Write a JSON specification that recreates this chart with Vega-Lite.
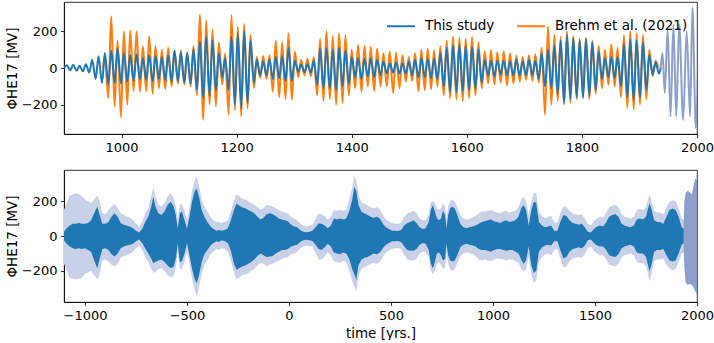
{
  "$schema": "https://vega.github.io/schema/vega-lite/v6.json",
  "padding": {"left": 4, "top": 1, "right": 0, "bottom": 0},
  "background": "white",
  "spacing": 14,
  "config": {
    "font": "DejaVu Sans",
    "view": {"stroke": "black", "strokeWidth": 0.8},
    "axis": {
      "grid": false,
      "labelFont": "DejaVu Sans", "labelFontSize": 13, "labelColor": "black",
      "titleFont": "DejaVu Sans", "titleFontSize": 13.5, "titleFontWeight": "normal", "titleColor": "black",
      "tickColor": "black", "tickSize": 3.5, "tickWidth": 0.8,
      "domainColor": "black", "domainWidth": 0.8,
      "labelPadding": 3.5, "labelFlush": false, "labelOverlap": false, "format": "d"
    },
    "legend": {
      "labelFont": "DejaVu Sans", "labelFontSize": 13.5, "labelColor": "black"
    }
  },
  "datasets": {
    "blue": [
      {"t":900,"v":0},{"t":905,"v":15},{"t":911,"v":-12},{"t":916,"v":18},{"t":922,"v":-15},{"t":927,"v":12},{"t":933,"v":-18},{"t":938,"v":20},{"t":944,"v":-25},{"t":949,"v":45},{"t":955,"v":-60},{"t":960,"v":64},{"t":966,"v":-82},{"t":971,"v":82},{"t":977,"v":-87},{"t":982,"v":95},{"t":988,"v":-80},{"t":993,"v":109},{"t":999,"v":-85},
      {"t":1004,"v":80},{"t":1010,"v":-75},{"t":1015,"v":70},{"t":1021,"v":-70},{"t":1026,"v":75},{"t":1032,"v":-60},{"t":1037,"v":55},{"t":1043,"v":-65},{"t":1048,"v":70},{"t":1054,"v":-72},{"t":1059,"v":65},{"t":1065,"v":-60},{"t":1070,"v":60},{"t":1076,"v":-65},{"t":1081,"v":70},{"t":1087,"v":-75},{"t":1092,"v":95},{"t":1098,"v":-73},
      {"t":1103,"v":85},{"t":1109,"v":-80},{"t":1114,"v":80},{"t":1120,"v":-85},{"t":1125,"v":100},{"t":1131,"v":-120},{"t":1136,"v":145},{"t":1142,"v":-164},{"t":1147,"v":172},{"t":1153,"v":-150},{"t":1158,"v":150},{"t":1164,"v":-120},{"t":1169,"v":80},{"t":1175,"v":-50},{"t":1180,"v":55},{"t":1186,"v":-120},{"t":1191,"v":170},{"t":1197,"v":-200},
      {"t":1202,"v":190},{"t":1208,"v":-218},{"t":1213,"v":200},{"t":1219,"v":-190},{"t":1224,"v":150},{"t":1230,"v":-80},{"t":1235,"v":45},{"t":1241,"v":-40},{"t":1246,"v":35},{"t":1252,"v":-40},{"t":1257,"v":45},{"t":1263,"v":-60},{"t":1268,"v":60},{"t":1274,"v":-55},{"t":1279,"v":65},{"t":1285,"v":-70},{"t":1290,"v":109},{"t":1296,"v":-70},
      {"t":1301,"v":40},{"t":1307,"v":-20},{"t":1312,"v":18},{"t":1318,"v":-22},{"t":1323,"v":20},{"t":1329,"v":-25},{"t":1334,"v":40},{"t":1340,"v":-90},{"t":1345,"v":105},{"t":1351,"v":-110},{"t":1356,"v":109},{"t":1362,"v":-110},{"t":1367,"v":100},{"t":1373,"v":-120},{"t":1378,"v":110},{"t":1384,"v":-100},{"t":1389,"v":95},{"t":1395,"v":-85},
      {"t":1400,"v":60},{"t":1406,"v":-50},{"t":1411,"v":55},{"t":1417,"v":-60},{"t":1422,"v":50},{"t":1428,"v":-45},{"t":1433,"v":55},{"t":1439,"v":-50},{"t":1444,"v":45},{"t":1450,"v":-40},{"t":1455,"v":35},{"t":1461,"v":-30},{"t":1466,"v":25},{"t":1472,"v":-25},{"t":1477,"v":30},{"t":1483,"v":-30},{"t":1488,"v":25},{"t":1494,"v":-30},{"t":1499,"v":35},
      {"t":1505,"v":-40},{"t":1510,"v":45},{"t":1516,"v":-50},{"t":1521,"v":55},{"t":1527,"v":-50},{"t":1532,"v":50},{"t":1538,"v":-55},{"t":1543,"v":50},{"t":1549,"v":-60},{"t":1554,"v":80},{"t":1560,"v":-100},{"t":1565,"v":110},{"t":1571,"v":-127},{"t":1576,"v":125},{"t":1582,"v":-130},{"t":1587,"v":127},{"t":1593,"v":-125},{"t":1598,"v":120},
      {"t":1604,"v":-120},{"t":1609,"v":115},{"t":1615,"v":-110},{"t":1620,"v":100},{"t":1626,"v":-80},{"t":1631,"v":45},{"t":1637,"v":-40},{"t":1642,"v":40},{"t":1648,"v":-45},{"t":1653,"v":40},{"t":1659,"v":-35},{"t":1664,"v":40},{"t":1670,"v":-40},{"t":1675,"v":35},{"t":1681,"v":-40},{"t":1686,"v":45},{"t":1692,"v":-40},{"t":1697,"v":35},
      {"t":1703,"v":-40},{"t":1708,"v":45},{"t":1714,"v":-40},{"t":1719,"v":40},{"t":1725,"v":-60},{"t":1730,"v":80},{"t":1736,"v":-100},{"t":1741,"v":100},{"t":1747,"v":-110},{"t":1752,"v":120},{"t":1758,"v":-140},{"t":1763,"v":150},{"t":1769,"v":-190},{"t":1774,"v":180},{"t":1780,"v":-170},{"t":1785,"v":164},{"t":1791,"v":-160},{"t":1796,"v":150},
      {"t":1802,"v":-164},{"t":1807,"v":160},{"t":1813,"v":-150},{"t":1818,"v":140},{"t":1824,"v":-120},{"t":1829,"v":90},{"t":1835,"v":-60},{"t":1840,"v":55},{"t":1846,"v":-50},{"t":1851,"v":60},{"t":1857,"v":-55},{"t":1862,"v":60},{"t":1868,"v":-100},{"t":1873,"v":130},{"t":1879,"v":-160},{"t":1884,"v":155},{"t":1890,"v":-173},{"t":1895,"v":150},
      {"t":1901,"v":-160},{"t":1906,"v":140},{"t":1912,"v":-120},{"t":1917,"v":70},{"t":1923,"v":-35},{"t":1928,"v":30},{"t":1934,"v":-30},{"t":1937,"v":0}
    ],
    "orange": [
      {"t":968,"v":0},{"t":971,"v":60},{"t":977,"v":-164},{"t":982,"v":282},{"t":988,"v":-209},{"t":993,"v":150},{"t":999,"v":-269},
      {"t":1004,"v":200},{"t":1010,"v":-200},{"t":1015,"v":204},{"t":1021,"v":-127},{"t":1026,"v":200},{"t":1032,"v":-130},{"t":1037,"v":118},{"t":1043,"v":-127},{"t":1048,"v":173},{"t":1054,"v":-140},{"t":1059,"v":120},{"t":1065,"v":-110},{"t":1070,"v":100},{"t":1076,"v":-115},{"t":1081,"v":110},{"t":1087,"v":-100},{"t":1092,"v":90},{"t":1098,"v":-85},
      {"t":1103,"v":95},{"t":1109,"v":-90},{"t":1114,"v":85},{"t":1120,"v":-100},{"t":1125,"v":120},{"t":1131,"v":-150},{"t":1136,"v":290},{"t":1142,"v":-282},{"t":1147,"v":260},{"t":1153,"v":-200},{"t":1158,"v":210},{"t":1164,"v":-209},{"t":1169,"v":140},{"t":1175,"v":-90},{"t":1180,"v":80},{"t":1186,"v":-255},{"t":1191,"v":290},{"t":1197,"v":-230},
      {"t":1202,"v":227},{"t":1208,"v":-265},{"t":1213,"v":240},{"t":1219,"v":-220},{"t":1224,"v":180},{"t":1230,"v":-110},{"t":1235,"v":60},{"t":1241,"v":-55},{"t":1246,"v":65},{"t":1252,"v":-60},{"t":1257,"v":70},{"t":1263,"v":-130},{"t":1268,"v":150},{"t":1274,"v":-160},{"t":1279,"v":140},{"t":1285,"v":-170},{"t":1290,"v":190},{"t":1296,"v":-173},
      {"t":1301,"v":90},{"t":1307,"v":-50},{"t":1312,"v":45},{"t":1318,"v":-40},{"t":1323,"v":50},{"t":1329,"v":-45},{"t":1334,"v":60},{"t":1340,"v":-150},{"t":1345,"v":160},{"t":1351,"v":-180},{"t":1356,"v":200},{"t":1362,"v":-170},{"t":1367,"v":175},{"t":1373,"v":-200},{"t":1378,"v":190},{"t":1384,"v":-190},{"t":1389,"v":180},{"t":1395,"v":-150},
      {"t":1400,"v":100},{"t":1406,"v":-110},{"t":1411,"v":127},{"t":1417,"v":-130},{"t":1422,"v":120},{"t":1428,"v":-100},{"t":1433,"v":115},{"t":1439,"v":-125},{"t":1444,"v":105},{"t":1450,"v":-100},{"t":1455,"v":80},{"t":1461,"v":-100},{"t":1466,"v":90},{"t":1472,"v":-136},{"t":1477,"v":85},{"t":1483,"v":-110},{"t":1488,"v":70},{"t":1494,"v":-75},{"t":1499,"v":60},
      {"t":1505,"v":-70},{"t":1510,"v":80},{"t":1516,"v":-127},{"t":1521,"v":100},{"t":1527,"v":-120},{"t":1532,"v":105},{"t":1538,"v":-115},{"t":1543,"v":95},{"t":1549,"v":-100},{"t":1554,"v":120},{"t":1560,"v":-150},{"t":1565,"v":150},{"t":1571,"v":-164},{"t":1576,"v":173},{"t":1582,"v":-170},{"t":1587,"v":165},{"t":1593,"v":-180},{"t":1598,"v":160},
      {"t":1604,"v":-164},{"t":1609,"v":170},{"t":1615,"v":-150},{"t":1620,"v":140},{"t":1626,"v":-110},{"t":1631,"v":90},{"t":1637,"v":-85},{"t":1642,"v":95},{"t":1648,"v":-90},{"t":1653,"v":85},{"t":1659,"v":-80},{"t":1664,"v":90},{"t":1670,"v":-95},{"t":1675,"v":80},{"t":1681,"v":-85},{"t":1686,"v":70},{"t":1692,"v":-75},{"t":1697,"v":60},
      {"t":1703,"v":-65},{"t":1708,"v":70},{"t":1714,"v":-70},{"t":1719,"v":75},{"t":1725,"v":-80},{"t":1730,"v":110},{"t":1736,"v":-255},{"t":1741,"v":227},{"t":1747,"v":-200},{"t":1752,"v":180},{"t":1758,"v":-180},{"t":1763,"v":170},{"t":1769,"v":-200},{"t":1774,"v":200},{"t":1780,"v":-190},{"t":1785,"v":175},{"t":1791,"v":-170},{"t":1796,"v":160},
      {"t":1802,"v":-150},{"t":1807,"v":165},{"t":1813,"v":-170},{"t":1818,"v":150},{"t":1824,"v":-140},{"t":1829,"v":120},{"t":1835,"v":-110},{"t":1840,"v":100},{"t":1846,"v":-90},{"t":1851,"v":130},{"t":1857,"v":-100},{"t":1862,"v":110},{"t":1868,"v":-160},{"t":1873,"v":180},{"t":1879,"v":-220},{"t":1884,"v":200},{"t":1890,"v":-227},{"t":1895,"v":190},
      {"t":1901,"v":-200},{"t":1906,"v":180},{"t":1912,"v":-170},{"t":1917,"v":100},{"t":1923,"v":-45},{"t":1928,"v":40},{"t":1933,"v":0}
    ],
    "lav": [
      {"t":1937,"v":0},{"t":1940,"v":82},{"t":1944,"v":-136},{"t":1949,"v":209},{"t":1954,"v":-264},{"t":1959,"v":236},{"t":1964,"v":-264},{"t":1969,"v":236},{"t":1976,"v":-282},{"t":1982,"v":200},{"t":1988,"v":-264},{"t":1992,"v":330},{"t":1998,"v":-327},{"t":2002,"v":0}
    ],
    "env": [
      {"t":-1103,"du":25,"dl":-25,"lu":150,"ll":-160},{"t":-1090,"du":45,"dl":-45,"lu":190,"ll":-200},{"t":-1075,"du":60,"dl":-60,"lu":230,"ll":-240},{"t":-1060,"du":70,"dl":-70,"lu":240,"ll":-245},{"t":-1045,"du":70,"dl":-75,"lu":245,"ll":-250},{"t":-1030,"du":75,"dl":-70,"lu":240,"ll":-245},{"t":-1015,"du":70,"dl":-75,"lu":230,"ll":-240},{"t":-1000,"du":70,"dl":-70,"lu":210,"ll":-215},
      {"t":-985,"du":75,"dl":-80,"lu":200,"ll":-210},{"t":-970,"du":90,"dl":-90,"lu":190,"ll":-200},{"t":-955,"du":130,"dl":-140,"lu":210,"ll":-225},{"t":-940,"du":168,"dl":-185,"lu":235,"ll":-250},{"t":-928,"du":120,"dl":-130,"lu":200,"ll":-220},{"t":-915,"du":70,"dl":-75,"lu":130,"ll":-140},{"t":-900,"du":70,"dl":-70,"lu":125,"ll":-135},
      {"t":-885,"du":80,"dl":-80,"lu":150,"ll":-150},{"t":-870,"du":110,"dl":-105,"lu":170,"ll":-165},{"t":-855,"du":130,"dl":-118,"lu":185,"ll":-175},{"t":-840,"du":110,"dl":-100,"lu":160,"ll":-160},{"t":-825,"du":75,"dl":-70,"lu":130,"ll":-125},{"t":-810,"du":65,"dl":-60,"lu":120,"ll":-115},{"t":-795,"du":60,"dl":-55,"lu":110,"ll":-110},
      {"t":-780,"du":55,"dl":-50,"lu":105,"ll":-100},{"t":-765,"du":45,"dl":-45,"lu":90,"ll":-90},{"t":-750,"du":30,"dl":-30,"lu":70,"ll":-70},{"t":-735,"du":20,"dl":-20,"lu":55,"ll":-55},{"t":-720,"du":40,"dl":-40,"lu":80,"ll":-80},{"t":-705,"du":80,"dl":-70,"lu":130,"ll":-120},{"t":-690,"du":110,"dl":-100,"lu":160,"ll":-150},
      {"t":-675,"du":170,"dl":-130,"lu":230,"ll":-190},{"t":-665,"du":225,"dl":-156,"lu":280,"ll":-210},{"t":-655,"du":170,"dl":-150,"lu":230,"ll":-210},{"t":-640,"du":130,"dl":-140,"lu":180,"ll":-190},{"t":-625,"du":120,"dl":-135,"lu":170,"ll":-185},{"t":-610,"du":140,"dl":-150,"lu":190,"ll":-200},{"t":-595,"du":180,"dl":-170,"lu":230,"ll":-225},
      {"t":-580,"du":196,"dl":-185,"lu":245,"ll":-240},{"t":-565,"du":170,"dl":-175,"lu":220,"ll":-230},{"t":-555,"du":120,"dl":-130,"lu":170,"ll":-180},{"t":-545,"du":40,"dl":-40,"lu":90,"ll":-90},{"t":-535,"du":130,"dl":-150,"lu":180,"ll":-190},{"t":-525,"du":139,"dl":-145,"lu":185,"ll":-190},{"t":-512,"du":90,"dl":-100,"lu":140,"ll":-150},
      {"t":-500,"du":40,"dl":-40,"lu":90,"ll":-90},{"t":-488,"du":110,"dl":-110,"lu":160,"ll":-160},{"t":-475,"du":200,"dl":-190,"lu":260,"ll":-250},{"t":-462,"du":260,"dl":-250,"lu":320,"ll":-310},{"t":-452,"du":272,"dl":-270,"lu":343,"ll":-347},{"t":-440,"du":220,"dl":-220,"lu":280,"ll":-290},{"t":-428,"du":150,"dl":-150,"lu":210,"ll":-215},
      {"t":-415,"du":110,"dl":-105,"lu":170,"ll":-165},{"t":-400,"du":80,"dl":-80,"lu":140,"ll":-140},{"t":-385,"du":55,"dl":-55,"lu":110,"ll":-105},{"t":-370,"du":40,"dl":-40,"lu":90,"ll":-90},{"t":-355,"du":30,"dl":-30,"lu":80,"ll":-75},{"t":-345,"du":35,"dl":-35,"lu":80,"ll":-80},{"t":-330,"du":30,"dl":-25,"lu":75,"ll":-70},
      {"t":-315,"du":35,"dl":-30,"lu":80,"ll":-75},{"t":-300,"du":45,"dl":-40,"lu":90,"ll":-90},{"t":-285,"du":90,"dl":-85,"lu":140,"ll":-140},{"t":-270,"du":150,"dl":-160,"lu":200,"ll":-210},{"t":-257,"du":187,"dl":-194,"lu":240,"ll":-250},{"t":-245,"du":175,"dl":-185,"lu":230,"ll":-240},{"t":-230,"du":165,"dl":-175,"lu":215,"ll":-225},
      {"t":-215,"du":160,"dl":-170,"lu":210,"ll":-220},{"t":-200,"du":150,"dl":-160,"lu":200,"ll":-215},{"t":-185,"du":140,"dl":-150,"lu":190,"ll":-200},{"t":-170,"du":130,"dl":-135,"lu":180,"ll":-190},{"t":-155,"du":110,"dl":-115,"lu":165,"ll":-170},{"t":-140,"du":95,"dl":-100,"lu":150,"ll":-155},{"t":-125,"du":105,"dl":-110,"lu":160,"ll":-160},
      {"t":-110,"du":125,"dl":-120,"lu":180,"ll":-175},{"t":-95,"du":130,"dl":-118,"lu":175,"ll":-165},{"t":-80,"du":125,"dl":-115,"lu":170,"ll":-160},{"t":-65,"du":115,"dl":-100,"lu":160,"ll":-150},{"t":-50,"du":100,"dl":-90,"lu":150,"ll":-140},{"t":-35,"du":95,"dl":-80,"lu":140,"ll":-130},{"t":-20,"du":90,"dl":-80,"lu":135,"ll":-125},
      {"t":-5,"du":85,"dl":-75,"lu":130,"ll":-120},{"t":10,"du":65,"dl":-60,"lu":110,"ll":-105},{"t":25,"du":55,"dl":-55,"lu":100,"ll":-100},{"t":40,"du":50,"dl":-50,"lu":90,"ll":-90},{"t":55,"du":35,"dl":-35,"lu":70,"ll":-70},{"t":70,"du":25,"dl":-25,"lu":60,"ll":-60},{"t":85,"du":22,"dl":-22,"lu":55,"ll":-55},
      {"t":100,"du":25,"dl":-25,"lu":60,"ll":-60},{"t":115,"du":30,"dl":-28,"lu":65,"ll":-60},{"t":130,"du":50,"dl":-50,"lu":100,"ll":-95},{"t":145,"du":72,"dl":-75,"lu":130,"ll":-135},{"t":160,"du":70,"dl":-80,"lu":125,"ll":-135},{"t":175,"du":60,"dl":-65,"lu":115,"ll":-120},{"t":190,"du":45,"dl":-45,"lu":95,"ll":-95},
      {"t":205,"du":60,"dl":-60,"lu":110,"ll":-110},{"t":220,"du":100,"dl":-95,"lu":150,"ll":-145},{"t":235,"du":95,"dl":-100,"lu":145,"ll":-150},{"t":250,"du":100,"dl":-105,"lu":150,"ll":-155},{"t":265,"du":95,"dl":-95,"lu":145,"ll":-145},{"t":280,"du":100,"dl":-100,"lu":150,"ll":-150},{"t":295,"du":140,"dl":-130,"lu":210,"ll":-200},
      {"t":310,"du":210,"dl":-190,"lu":280,"ll":-260},{"t":320,"du":282,"dl":-220,"lu":349,"ll":-290},{"t":330,"du":260,"dl":-251,"lu":320,"ll":-318},{"t":340,"du":180,"dl":-170,"lu":240,"ll":-230},{"t":355,"du":139,"dl":-137,"lu":195,"ll":-190},{"t":370,"du":130,"dl":-125,"lu":185,"ll":-180},{"t":385,"du":120,"dl":-120,"lu":175,"ll":-170},
      {"t":400,"du":110,"dl":-110,"lu":165,"ll":-160},{"t":415,"du":105,"dl":-100,"lu":160,"ll":-155},{"t":430,"du":110,"dl":-105,"lu":165,"ll":-160},{"t":445,"du":100,"dl":-95,"lu":155,"ll":-150},{"t":460,"du":70,"dl":-70,"lu":120,"ll":-120},{"t":475,"du":50,"dl":-50,"lu":95,"ll":-95},{"t":490,"du":40,"dl":-40,"lu":85,"ll":-85},
      {"t":505,"du":30,"dl":-30,"lu":75,"ll":-75},{"t":520,"du":30,"dl":-30,"lu":70,"ll":-70},{"t":535,"du":28,"dl":-28,"lu":70,"ll":-70},{"t":550,"du":35,"dl":-35,"lu":75,"ll":-75},{"t":565,"du":60,"dl":-60,"lu":110,"ll":-110},{"t":580,"du":75,"dl":-80,"lu":130,"ll":-135},{"t":595,"du":80,"dl":-85,"lu":135,"ll":-140},
      {"t":610,"du":90,"dl":-85,"lu":145,"ll":-140},{"t":625,"du":75,"dl":-75,"lu":130,"ll":-130},{"t":640,"du":50,"dl":-50,"lu":100,"ll":-100},{"t":655,"du":40,"dl":-40,"lu":90,"ll":-90},{"t":670,"du":45,"dl":-45,"lu":90,"ll":-90},{"t":685,"du":80,"dl":-80,"lu":120,"ll":-120},{"t":695,"du":150,"dl":-160,"lu":190,"ll":-200},
      {"t":705,"du":177,"dl":-185,"lu":200,"ll":-220},{"t":715,"du":140,"dl":-150,"lu":190,"ll":-200},{"t":725,"du":100,"dl":-100,"lu":160,"ll":-160},{"t":735,"du":90,"dl":-95,"lu":150,"ll":-150},{"t":745,"du":100,"dl":-110,"lu":160,"ll":-165},{"t":755,"du":145,"dl":-140,"lu":190,"ll":-190},{"t":765,"du":120,"dl":-130,"lu":170,"ll":-180},
      {"t":772,"du":40,"dl":-45,"lu":90,"ll":-90},{"t":780,"du":120,"dl":-110,"lu":170,"ll":-160},{"t":790,"du":160,"dl":-140,"lu":200,"ll":-190},{"t":800,"du":168,"dl":-147,"lu":210,"ll":-200},{"t":812,"du":160,"dl":-140,"lu":200,"ll":-190},{"t":825,"du":120,"dl":-110,"lu":165,"ll":-155},{"t":840,"du":70,"dl":-65,"lu":120,"ll":-115},
      {"t":855,"du":50,"dl":-50,"lu":100,"ll":-100},{"t":870,"du":45,"dl":-45,"lu":95,"ll":-95},{"t":885,"du":50,"dl":-50,"lu":100,"ll":-100},{"t":900,"du":55,"dl":-55,"lu":105,"ll":-105},{"t":915,"du":60,"dl":-60,"lu":115,"ll":-115},{"t":930,"du":70,"dl":-75,"lu":130,"ll":-135},{"t":945,"du":80,"dl":-80,"lu":140,"ll":-140},
      {"t":960,"du":85,"dl":-80,"lu":140,"ll":-135},{"t":975,"du":90,"dl":-85,"lu":145,"ll":-140},{"t":990,"du":95,"dl":-90,"lu":150,"ll":-145},{"t":1005,"du":85,"dl":-80,"lu":140,"ll":-135},{"t":1020,"du":80,"dl":-75,"lu":135,"ll":-130},{"t":1035,"du":75,"dl":-75,"lu":130,"ll":-130},{"t":1050,"du":85,"dl":-80,"lu":140,"ll":-135},
      {"t":1065,"du":90,"dl":-85,"lu":145,"ll":-140},{"t":1080,"du":80,"dl":-80,"lu":135,"ll":-135},{"t":1095,"du":85,"dl":-80,"lu":140,"ll":-135},{"t":1110,"du":90,"dl":-90,"lu":145,"ll":-145},{"t":1125,"du":110,"dl":-100,"lu":165,"ll":-155},{"t":1140,"du":165,"dl":-140,"lu":215,"ll":-190},{"t":1150,"du":177,"dl":-160,"lu":225,"ll":-205},
      {"t":1162,"du":150,"dl":-140,"lu":200,"ll":-190},{"t":1175,"du":60,"dl":-60,"lu":120,"ll":-120},{"t":1188,"du":150,"dl":-170,"lu":200,"ll":-220},{"t":1200,"du":196,"dl":-213,"lu":250,"ll":-270},{"t":1212,"du":190,"dl":-200,"lu":245,"ll":-255},{"t":1225,"du":80,"dl":-90,"lu":140,"ll":-150},{"t":1240,"du":60,"dl":-65,"lu":115,"ll":-120},
      {"t":1255,"du":50,"dl":-55,"lu":100,"ll":-105},{"t":1270,"du":55,"dl":-50,"lu":110,"ll":-100},{"t":1285,"du":60,"dl":-55,"lu":115,"ll":-110},{"t":1300,"du":30,"dl":-30,"lu":80,"ll":-80},{"t":1315,"du":28,"dl":-28,"lu":75,"ll":-75},{"t":1330,"du":80,"dl":-80,"lu":130,"ll":-130},{"t":1345,"du":120,"dl":-128,"lu":170,"ll":-180},
      {"t":1360,"du":115,"dl":-120,"lu":165,"ll":-175},{"t":1375,"du":90,"dl":-90,"lu":145,"ll":-145},{"t":1390,"du":75,"dl":-75,"lu":130,"ll":-130},{"t":1405,"du":70,"dl":-70,"lu":125,"ll":-125},{"t":1420,"du":65,"dl":-65,"lu":120,"ll":-120},{"t":1435,"du":70,"dl":-70,"lu":125,"ll":-125},{"t":1450,"du":50,"dl":-55,"lu":100,"ll":-105},
      {"t":1465,"du":25,"dl":-25,"lu":70,"ll":-70},{"t":1480,"du":20,"dl":-20,"lu":60,"ll":-60},{"t":1495,"du":40,"dl":-40,"lu":85,"ll":-85},{"t":1510,"du":55,"dl":-55,"lu":100,"ll":-100},{"t":1525,"du":60,"dl":-60,"lu":110,"ll":-110},{"t":1540,"du":55,"dl":-60,"lu":105,"ll":-110},{"t":1555,"du":80,"dl":-80,"lu":135,"ll":-135},
      {"t":1570,"du":110,"dl":-110,"lu":165,"ll":-165},{"t":1585,"du":120,"dl":-118,"lu":175,"ll":-170},{"t":1600,"du":125,"dl":-120,"lu":180,"ll":-175},{"t":1615,"du":110,"dl":-105,"lu":165,"ll":-160},{"t":1630,"du":70,"dl":-70,"lu":125,"ll":-125},{"t":1645,"du":60,"dl":-60,"lu":110,"ll":-110},{"t":1660,"du":55,"dl":-55,"lu":105,"ll":-105},
      {"t":1675,"du":50,"dl":-50,"lu":100,"ll":-100},{"t":1690,"du":60,"dl":-60,"lu":110,"ll":-110},{"t":1705,"du":95,"dl":-95,"lu":150,"ll":-150},{"t":1720,"du":100,"dl":-100,"lu":155,"ll":-155},{"t":1735,"du":95,"dl":-100,"lu":150,"ll":-155},{"t":1750,"du":110,"dl":-120,"lu":165,"ll":-175},{"t":1760,"du":160,"dl":-170,"lu":210,"ll":-220},
      {"t":1768,"du":187,"dl":-204,"lu":240,"ll":-260},{"t":1778,"du":150,"dl":-160,"lu":200,"ll":-210},{"t":1790,"du":90,"dl":-90,"lu":145,"ll":-145},{"t":1805,"du":80,"dl":-80,"lu":135,"ll":-135},{"t":1820,"du":80,"dl":-80,"lu":135,"ll":-135},{"t":1835,"du":70,"dl":-75,"lu":125,"ll":-130},{"t":1850,"du":110,"dl":-110,"lu":165,"ll":-165},
      {"t":1865,"du":150,"dl":-140,"lu":195,"ll":-185},{"t":1880,"du":158,"dl":-147,"lu":205,"ll":-195},{"t":1895,"du":150,"dl":-140,"lu":200,"ll":-190},{"t":1910,"du":110,"dl":-100,"lu":160,"ll":-150},{"t":1925,"du":50,"dl":-50,"lu":100,"ll":-100},{"t":1938,"du":40,"dl":-40,"lu":90,"ll":-90}
    ],
    "lavenv": [
      {"t":1934,"u":60,"l":-60},{"t":1938,"u":200,"l":-180},{"t":1945,"u":250,"l":-270},{"t":1955,"u":260,"l":-280},{"t":1965,"u":250,"l":-275},{"t":1975,"u":240,"l":-282},{"t":1985,"u":300,"l":-300},{"t":1992,"u":330,"l":-320},{"t":2000,"u":320,"l":-330}
    ]
  },
  "vconcat": [
    {
      "width": 633,
      "height": 132,
      "encoding": {
        "x": {"field": "t", "type": "quantitative", "scale": {"domain": [900, 2000], "nice": false, "zero": false},
              "axis": {"title": null, "values": [1000, 1200, 1400, 1600, 1800, 2000]}},
        "y": {"field": "v", "type": "quantitative", "scale": {"domain": [-360, 360], "nice": false},
              "axis": {"title": "ΦHE17 [MV]", "values": [-200, 0, 200], "titlePadding": 2}}
      },
      "layer": [
        {
          "data": {"name": "orange"},
          "mark": {"type": "line", "interpolate": "monotone", "strokeWidth": 2, "clip": true},
          "encoding": {"color": {"datum": "Brehm et al. (2021)", "type": "nominal",
            "scale": {"domain": ["This study", "Brehm et al. (2021)"], "range": ["#1f77b4", "#ff7f0e"]},
            "legend": {"title": null, "orient": "none", "legendX": 322, "legendY": 9, "direction": "horizontal",
                       "symbolType": "stroke", "symbolSize": 784, "symbolStrokeWidth": 2, "labelOffset": 9, "columnPadding": 18, "padding": 0}}}
        },
        {
          "data": {"name": "blue"},
          "mark": {"type": "line", "interpolate": "monotone", "strokeWidth": 2, "clip": true},
          "encoding": {"color": {"datum": "This study", "type": "nominal"}}
        },
        {
          "data": {"name": "lav"},
          "mark": {"type": "line", "interpolate": "monotone", "strokeWidth": 2, "clip": true, "color": "#8da0cb"},
          "encoding": {}
        }
      ]
    },
    {
      "width": 633,
      "height": 132,
      "encoding": {
        "x": {"field": "t", "type": "quantitative", "scale": {"domain": [-1103, 2000], "nice": false, "zero": false},
              "axis": {"title": "time [yrs.]", "values": [-1000, -500, 0, 500, 1000, 1500, 2000], "titlePadding": 4}}
      },
      "layer": [
        {
          "data": {"name": "env"},
          "mark": {"type": "area", "color": "#c9d1e8", "clip": true},
          "encoding": {
            "y": {"field": "lu", "type": "quantitative", "scale": {"domain": [-379, 379], "nice": false},
                  "axis": {"title": "ΦHE17 [MV]", "values": [-200, 0, 200], "titlePadding": 2}},
            "y2": {"field": "ll"}
          }
        },
        {
          "data": {"name": "env"},
          "mark": {"type": "area", "color": "#1f77b4", "clip": true},
          "encoding": {
            "y": {"field": "du", "type": "quantitative"},
            "y2": {"field": "dl"}
          }
        },
        {
          "data": {"name": "lavenv"},
          "mark": {"type": "area", "color": "#8da0cb", "clip": true},
          "encoding": {
            "y": {"field": "u", "type": "quantitative"},
            "y2": {"field": "l"}
          }
        }
      ]
    }
  ]
}
